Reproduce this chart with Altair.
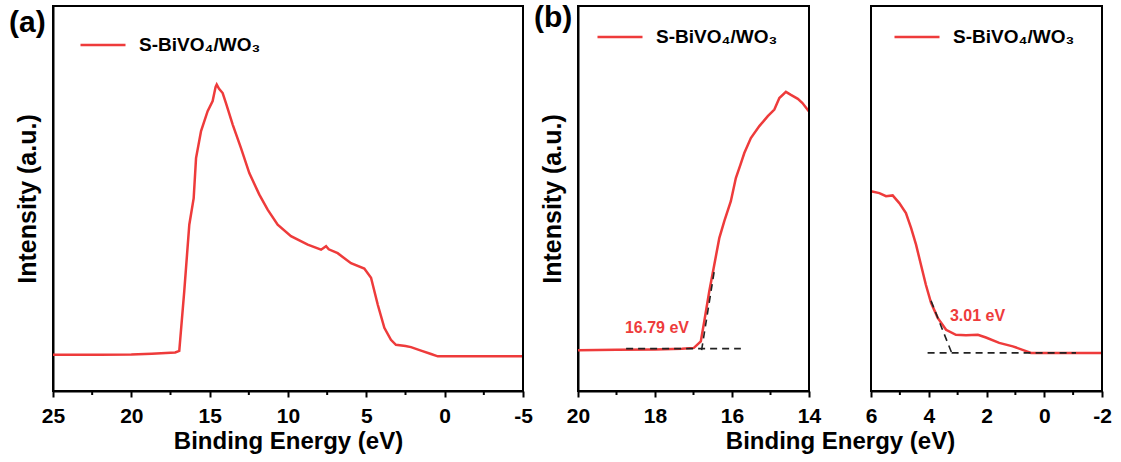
import altair as alt
import pandas as pd

SERIES = "S-BiVO₄/WO₃"
RED = "#EE3B3B"
FONT = "Liberation Sans"

# ---- panel (a): full spectrum ----
a_energy = [25, 22, 20, 18.7, 17.2, 16.94, 16.62, 16.30, 16.02, 15.87, 15.55, 15.13, 14.81,
            14.62, 14.55, 14.40, 14.17, 13.96, 13.53, 13.00, 12.47, 11.83, 11.30, 10.66,
            9.81, 8.74, 7.89, 7.57, 7.40, 6.83, 5.98, 5.13, 4.70, 4.27, 3.85, 3.43, 3.11,
            2.50, 2.15, 1.51, 0.87, 0.44, -2.5, -5]
a_intensity = [9.4, 9.4, 9.5, 9.7, 10.0, 10.4, 26.0, 43.2, 50.1, 60.5, 67.5, 72.7, 75.3,
               79.0, 79.6, 78.5, 77.4, 74.8, 69.2, 63.1, 56.6, 51.0, 47.1, 43.2,
               40.2, 38.0, 36.7, 37.6, 36.8, 35.8, 33.2, 31.8, 29.4, 22.4, 16.4, 13.3, 12.0,
               11.7, 11.4, 10.5, 9.6, 9.0, 9.0, 9.0]
a_ticks = [25, 20, 15, 10, 5, 0, -5]
a_minor = [22.5, 17.5, 12.5, 7.5, 2.5, -2.5]

# ---- panel (b) left: secondary electron cutoff ----
bl_energy = [20, 19, 18, 17.3, 16.99, 16.81, 16.72, 16.59, 16.46, 16.33, 16.20, 16.03,
             15.90, 15.78, 15.68, 15.51, 15.29, 15.07, 14.90, 14.77, 14.60, 14.47, 14.29,
             14.17, 14.0]
bl_intensity = [10.6, 10.7, 10.8, 11.0, 11.2, 12.9, 18.1, 25.9, 32.8, 39.7, 44.1, 49.3,
                55.3, 58.8, 61.8, 65.7, 68.8, 71.4, 73.1, 76.1, 77.7, 76.9, 75.9,
                74.8, 72.6]
bl_ticks = [20, 18, 16, 14]
bl_minor = [19, 17, 15]
bl_tangent_e = [16.79, 16.46]
bl_tangent_i = [10.6, 31.2]
bl_base_e = [18.75, 15.77]
bl_base_i = [11.0, 11.0]
bl_label = "16.79 eV"
bl_label_pos = (17.95, 16.4)

# ---- panel (b) right: valence band edge ----
br_energy = [6.0, 5.71, 5.48, 5.25, 5.02, 4.79, 4.61, 4.44, 4.27, 4.10, 3.92, 3.69, 3.40,
             3.06, 2.71, 2.30, 2.02, 1.56, 1.09, 0.75, 0.46, -1.0, -2.0]
br_intensity = [51.9, 51.4, 50.6, 50.8, 48.8, 46.2, 42.3, 38.0, 32.8, 27.6, 22.9, 19.0, 15.9,
                14.6, 14.5, 14.6, 13.9, 12.5, 11.6, 10.7, 9.9, 9.9, 9.9]
br_ticks = [6, 4, 2, 0, -2]
br_minor = [5, 3, 1, -1]
br_tangent_e = [3.92, 3.19]
br_tangent_i = [23.4, 9.6]
br_base_e = [4.04, -1.10]
br_base_i = [9.9, 9.9]
br_label = "3.01 eV"
br_label_pos = (2.31, 19.5)

Y_DOMAIN = [0, 100]
H = 385


def panel(energy, intensity, xdom, ticks, minor, width, ytitle, xtitle, legend_xy,
          tag=None, guides=None, label=None, xtitle_x=None):
    df = pd.DataFrame({"E": energy, "I": intensity, "s": [SERIES] * len(energy)})
    xscale = alt.Scale(domain=xdom, nice=False, zero=False)
    yscale = alt.Scale(domain=Y_DOMAIN, nice=False, zero=False)
    xaxis_kw = dict(values=ticks, tickSize=6, tickWidth=2, domainWidth=2,
                    labelPadding=8, titlePadding=3, grid=False,
                    labelExpr="'' + datum.value", labelFlush=False,
                    titleFontSize=24, labelFontSize=21,
                    labelFont=FONT, titleFont=FONT, labelFontWeight="bold",
                    titleFontWeight="bold", labelColor="black", titleColor="black",
                    domainColor="black", tickColor="black")
    if xtitle is None:
        xaxis = alt.Axis(title=None, **xaxis_kw)
    elif xtitle_x is not None:
        xaxis = alt.Axis(title=xtitle, titleX=xtitle_x, **xaxis_kw)
    else:
        xaxis = alt.Axis(title=xtitle, **xaxis_kw)
    if ytitle is None:
        yaxis = None
    else:
        yaxis = alt.Axis(title=ytitle, labels=False, ticks=False, domainWidth=2,
                         domainColor="black", titlePadding=13, grid=False,
                         titleFontSize=25, titleFont=FONT, titleFontWeight="bold",
                         titleColor="black")

    line = alt.Chart(df).mark_line(strokeWidth=2.5).encode(
        x=alt.X("E:Q", scale=xscale, axis=xaxis),
        y=alt.Y("I:Q", scale=yscale, axis=yaxis),
        color=alt.Color("s:N", scale=alt.Scale(domain=[SERIES], range=[RED]),
                        legend=alt.Legend(orient="none", legendX=legend_xy[0],
                                          legendY=legend_xy[1], title=None,
                                          symbolType="stroke", symbolSize=2025,
                                          symbolStrokeWidth=2.5, labelFont=FONT,
                                          labelFontSize=19, labelFontWeight="bold",
                                          labelColor="black", labelOffset=12,
                                          padding=0)),
    )
    layers = [line]
    # plot frame drawn at the scale domain limits (top, right, and left if no y axis)
    fr = pd.DataFrame({"x0": [xdom[0]], "x1": [xdom[1]],
                       "y0": [Y_DOMAIN[0]], "y1": [Y_DOMAIN[1]]})
    layers.append(alt.Chart(fr).mark_rule(color="black", strokeWidth=2).encode(
        x=alt.X("x0:Q", scale=xscale, axis=None), x2="x1:Q",
        y=alt.Y("y1:Q", scale=yscale, axis=None)))
    layers.append(alt.Chart(fr).mark_rule(color="black", strokeWidth=2).encode(
        x=alt.X("x1:Q", scale=xscale, axis=None),
        y=alt.Y("y0:Q", scale=yscale, axis=None), y2="y1:Q"))
    if ytitle is None:
        layers.append(alt.Chart(fr).mark_rule(color="black", strokeWidth=2).encode(
            x=alt.X("x0:Q", scale=xscale, axis=None),
            y=alt.Y("y0:Q", scale=yscale, axis=None), y2="y1:Q"))
    minor_df = pd.DataFrame({"m": minor})
    layers.append(alt.Chart(minor_df).mark_rule(color="black", strokeWidth=2).encode(
        x=alt.X("m:Q", scale=xscale, axis=None), y=alt.value(H), y2=alt.value(H + 4)))
    if guides is not None:
        gdf = pd.DataFrame(guides)
        layers.append(alt.Chart(gdf).mark_line(color="#222222", strokeWidth=1.6,
                                               strokeDash=[7, 5]).encode(
            x=alt.X("E:Q", scale=xscale, axis=None),
            y=alt.Y("I:Q", scale=yscale, axis=None), detail="seg:N"))
    if label is not None:
        ldf = pd.DataFrame({"E": [label[1][0]], "I": [label[1][1]], "t": [label[0]]})
        layers.append(alt.Chart(ldf).mark_text(color=RED, font=FONT, fontSize=16,
                                               fontWeight="bold", baseline="middle").encode(
            x=alt.X("E:Q", scale=xscale, axis=None),
            y=alt.Y("I:Q", scale=yscale, axis=None), text="t:N"))
    if tag is not None:
        tdf = pd.DataFrame({"t": [tag[0]]})
        layers.append(alt.Chart(tdf).mark_text(align="left", baseline="middle", font=FONT,
                                               fontSize=30, fontWeight="bold",
                                               color="black").encode(
            x=alt.value(tag[1]), y=alt.value(tag[2]), text="t:N"))
    return alt.layer(*layers).resolve_axis(x="independent", y="independent").properties(
        width=width, height=H)


pa = panel(a_energy, a_intensity, [25, -5], a_ticks, a_minor, 470,
           "Intensity (a.u.)", "Binding Energy (eV)", (26, 15), tag=("(a)", -44, 17))

bl_guides = {"E": bl_tangent_e + bl_base_e, "I": bl_tangent_i + bl_base_i,
             "seg": ["t", "t", "b", "b"]}
pbl = panel(bl_energy, bl_intensity, [20, 14], bl_ticks, bl_minor, 231,
            "Intensity (a.u.)", "Binding Energy (eV)", (18, 7), tag=("(b)", -44, 12),
            guides=bl_guides, label=(bl_label, bl_label_pos), xtitle_x=262)

br_guides = {"E": br_tangent_e + br_base_e, "I": br_tangent_i + br_base_i,
             "seg": ["t", "t", "b", "b"]}
pbr = panel(br_energy, br_intensity, [6, -2], br_ticks, br_minor, 231,
            None, None, (22, 7), guides=br_guides, label=(br_label, br_label_pos))

pb = alt.hconcat(pbl, pbr, spacing=62, bounds="flush").resolve_scale(
    x="independent", color="independent").resolve_legend(color="independent")

chart = alt.hconcat(pa, pb, spacing=55, bounds="flush").resolve_scale(
    x="independent", color="independent").resolve_legend(color="independent").properties(
    padding={"left": 8, "top": 2, "right": 5, "bottom": 5},
    background="white"
).configure_view(stroke="black", strokeWidth=2)

chart.save("out.html", embed_options={"renderer": "svg", "actions": False})
